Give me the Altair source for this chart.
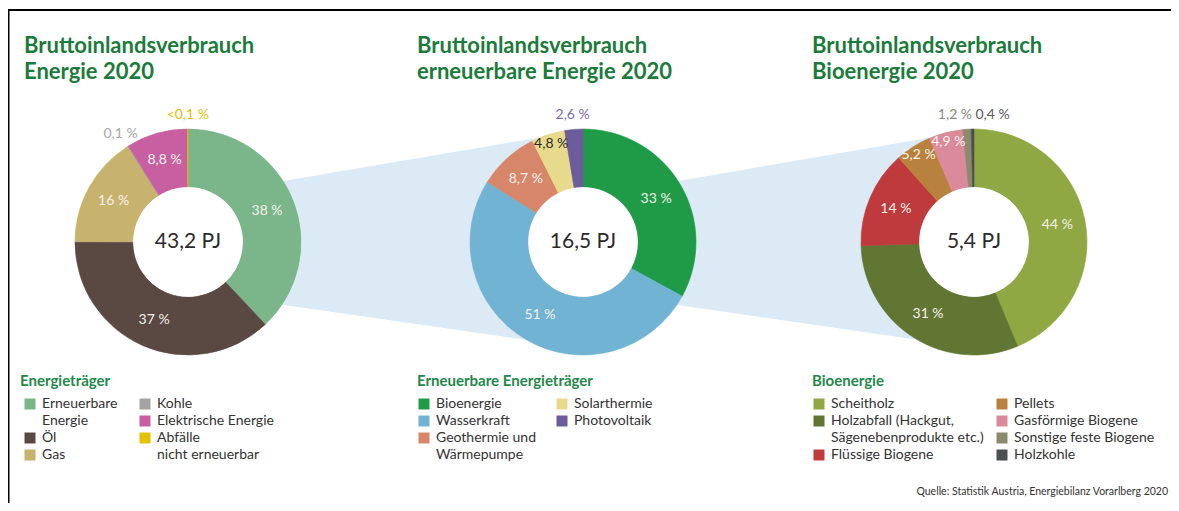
import math
import altair as alt
import pandas as pd

# ---------------- data ----------------
energie_cats = ["Erneuerbare Energie", "Öl", "Gas", "Kohle", "Elektrische Energie", "Abfälle nicht erneuerbar"]
energie_vals = [38, 37, 16, 0.1, 8.8, 0.05]
energie_labels = ["38 %", "37 %", "16 %", "0,1 %", "8,8 %", "<0,1 %"]
energie_total = "43,2 PJ"

ee_cats = ["Bioenergie", "Wasserkraft", "Geothermie und Wärmepumpe", "Solarthermie", "Photovoltaik"]
ee_vals = [33, 51, 8.7, 4.8, 2.6]
ee_labels = ["33 %", "51 %", "8,7 %", "4,8 %", "2,6 %"]
ee_total = "16,5 PJ"

bio_cats = ["Scheitholz", "Holzabfall (Hackgut, Sägenebenprodukte etc.)", "Flüssige Biogene", "Pellets",
            "Gasförmige Biogene", "Sonstige feste Biogene", "Holzkohle"]
bio_vals = [44, 31, 14, 5.2, 4.9, 1.2, 0.4]
bio_labels = ["44 %", "31 %", "14 %", "5,2 %", "4,9 %", "1,2 %", "0,4 %"]
bio_total = "5,4 PJ"

titles = [["Bruttoinlandsverbrauch", "Energie 2020"],
          ["Bruttoinlandsverbrauch", "erneuerbare Energie 2020"],
          ["Bruttoinlandsverbrauch", "Bioenergie 2020"]]
legend_titles = ["Energieträger", "Erneuerbare Energieträger", "Bioenergie"]
source_text = "Quelle: Statistik Austria, Energiebilanz Vorarlberg 2020"

# legend columns: (category, lines of text)
legend_cols = [
    [[("Erneuerbare Energie", ["Erneuerbare", "Energie"]), ("Öl", ["Öl"]), ("Gas", ["Gas"])],
     [("Kohle", ["Kohle"]), ("Elektrische Energie", ["Elektrische Energie"]),
      ("Abfälle nicht erneuerbar", ["Abfälle", "nicht erneuerbar"])]],
    [[("Bioenergie", ["Bioenergie"]), ("Wasserkraft", ["Wasserkraft"]),
      ("Geothermie und Wärmepumpe", ["Geothermie und", "Wärmepumpe"])],
     [("Solarthermie", ["Solarthermie"]), ("Photovoltaik", ["Photovoltaik"])]],
    [[("Scheitholz", ["Scheitholz"]),
      ("Holzabfall (Hackgut, Sägenebenprodukte etc.)", ["Holzabfall (Hackgut,", "Sägenebenprodukte etc.)"]),
      ("Flüssige Biogene", ["Flüssige Biogene"])],
     [("Pellets", ["Pellets"]), ("Gasförmige Biogene", ["Gasförmige Biogene"]),
      ("Sonstige feste Biogene", ["Sonstige feste Biogene"]), ("Holzkohle", ["Holzkohle"])]],
]

# ---------------- styles ----------------
energie_colors = ["#7bb58a", "#5a4943", "#c8b36e", "#a3a3a3", "#c75fa0", "#e3c300"]
ee_colors = ["#1f9b47", "#71b3d3", "#d8866a", "#e8da8c", "#6d5c9b"]
bio_colors = ["#8fa843", "#617632", "#bf3a3c", "#b8813e", "#db8a9b", "#8b8a6c", "#4b4f50"]
outer_label_colors = {"Kohle": "#a8a8a8", "Abfälle nicht erneuerbar": "#e0c000", "Photovoltaik": "#7b6cab",
                      "Sonstige feste Biogene": "#8a8a80", "Holzkohle": "#5a5a5a"}
dark_label = {"Solarthermie": "#2b2b2b"}
label_align = {"Sonstige feste Biogene": ("right", 6), "Holzkohle": ("left", 3)}

FONT = "Lato"
GREEN = "#1b7b3b"
TEXT = "#333333"

# ---------------- layout ----------------
CX = [188, 583, 974]
CY = 242
R_OUT, R_IN = 113, 55
TITLE_X = [24, 417, 812]
TITLE_Y = [53, 79]
LEG_TITLE_Y = 386
LEG_ROW0, LEG_STEP = 404, 17
LEG_TEXT_X = [[42, 157], [436, 574], [831, 1014]]

panels = [(energie_cats, energie_vals, energie_labels, energie_colors, energie_total),
          (ee_cats, ee_vals, ee_labels, ee_colors, ee_total),
          (bio_cats, bio_vals, bio_labels, bio_colors, bio_total)]

all_cats, all_colors = [], []
arc_rows, lab_rows, center_rows = [], [], []
for p, (cats, vals, labs, cols, tot) in enumerate(panels):
    all_cats += cats
    all_colors += cols
    total = sum(vals)
    cum = 0.0
    for i, (c, v, l) in enumerate(zip(cats, vals, labs)):
        t0, t1 = cum / total, (cum + v) / total
        cum += v
        arc_rows.append(dict(cat=c, t0=t0, t1=t1, cx=CX[p], cy=CY))
        mid = (t0 + t1) / 2 * 2 * math.pi
        if v >= 8:
            r = 85
        elif v >= 3:
            r = 103
        else:
            r = 127
        if r == 127:
            col = outer_label_colors.get(c, "#888888")
        else:
            col = dark_label.get(c, "#f4f1ea")
        al, dx = label_align.get(c, ("center", 0))
        lab_rows.append(dict(text=l, lx=CX[p] + r * math.sin(mid) + dx, ly=CY - r * math.cos(mid),
                             col=col, align=al))
    center_rows.append(dict(text=tot, x=CX[p], y=CY, t0=0.0, t1=1.0))

arcs = pd.DataFrame(arc_rows)
labels = pd.DataFrame(lab_rows)
centers = pd.DataFrame(center_rows)

title_rows = []
for p in range(3):
    for j, line in enumerate(titles[p]):
        title_rows.append(dict(text=line, x=TITLE_X[p], y=TITLE_Y[j]))
title_df = pd.DataFrame(title_rows)

leg_title_df = pd.DataFrame([dict(text=legend_titles[p], x=TITLE_X[p] - 4 if p == 0 else TITLE_X[p],
                                  y=LEG_TITLE_Y) for p in range(3)])
sq_rows, lt_rows = [], []
for p in range(3):
    for ci, col in enumerate(legend_cols[p]):
        row = 0
        tx = LEG_TEXT_X[p][ci]
        for cat, lines in col:
            sq_rows.append(dict(cat=cat, x=tx - 12, y=LEG_ROW0 + row * LEG_STEP))
            for ln in lines:
                lt_rows.append(dict(text=ln, x=tx, y=LEG_ROW0 + row * LEG_STEP))
                row += 1
sq_df = pd.DataFrame(sq_rows)
lt_df = pd.DataFrame(lt_rows)
src_df = pd.DataFrame([dict(text=source_text, x=1168, y=492)])

# ---------------- scales ----------------
W, H = 1163, 495
xs = alt.Scale(domain=[8, 8 + W], range=[0, W], nice=False, zero=False)
ys = alt.Scale(domain=[8, 8 + H], range=[0, H], nice=False, zero=False)
cs = alt.Scale(domain=all_cats, range=all_colors)
ts = alt.Scale(domain=[0, 1], range=[0, 2 * math.pi])


def X(f):
    return alt.X(f, type="quantitative", scale=xs, axis=None)


def Y(f):
    return alt.Y(f, type="quantitative", scale=ys, axis=None, stack=None)


conn_layers = []
for k in range(2):
    cdf = pd.DataFrame([dict(x=CX[k] + 60, top=CY - 55, bot=CY + 58),
                        dict(x=CX[k + 1], top=CY - 112, bot=CY + 106)])
    conn_layers.append(alt.Chart(cdf).mark_area(color="#dceaf6", opacity=1).encode(
        x=X("x"), y=Y("top"), y2=alt.Y2("bot")))

arc_layer = alt.Chart(arcs).mark_arc(radius=R_OUT, radius2=R_IN, strokeWidth=0.6).encode(
    x=X("cx"), y=Y("cy"),
    theta=alt.Theta("t0:Q", scale=ts), theta2="t1:Q",
    color=alt.Color("cat:N", scale=cs, legend=None),
    stroke=alt.Stroke("cat:N", scale=cs, legend=None))

hole_layer = alt.Chart(centers).mark_arc(radius=R_IN - 0.3, radius2=0, color="white").encode(
    x=X("x"), y=Y("y"), theta=alt.Theta("t0:Q", scale=ts), theta2="t1:Q")

label_layers = []
for al in ["center", "left", "right"]:
    sub = labels[labels["align"] == al]
    if len(sub):
        label_layers.append(alt.Chart(sub).mark_text(font=FONT, fontSize=14, align=al, baseline="middle").encode(
            x=X("lx"), y=Y("ly"), text="text:N", color=alt.Color("col:N", scale=None)))

center_layer = alt.Chart(centers).mark_text(font=FONT, fontSize=21, color="#2b2b2b", baseline="middle").encode(
    x=X("x"), y=Y("y"), text="text:N")

title_layer = alt.Chart(title_df).mark_text(font=FONT, fontSize=22, fontWeight="bold", color=GREEN,
                                            align="left", baseline="alphabetic").encode(
    x=X("x"), y=Y("y"), text="text:N")

leg_title_layer = alt.Chart(leg_title_df).mark_text(font=FONT, fontSize=15, fontWeight="bold", color="#23884a",
                                                    align="left", baseline="alphabetic").encode(
    x=X("x"), y=Y("y"), text="text:N")

sq_layer = alt.Chart(sq_df).mark_square(size=121, opacity=1).encode(
    x=X("x"), y=Y("y"), color=alt.Color("cat:N", scale=cs, legend=None))

lt_layer = alt.Chart(lt_df).mark_text(font=FONT, fontSize=14, color=TEXT, align="left", baseline="middle").encode(
    x=X("x"), y=Y("y"), text="text:N")

src_layer = alt.Chart(src_df).mark_text(font=FONT, fontSize=10.5, color=TEXT, align="right",
                                        baseline="middle").encode(x=X("x"), y=Y("y"), text="text:N")

frame_top = alt.Chart(src_df).mark_rule(color="black", strokeWidth=2).encode(
    x=alt.value(0), x2=alt.value(W), y=alt.value(2))
frame_left = alt.Chart(src_df).mark_rule(color="black", strokeWidth=2).encode(
    x=alt.value(0.5), y=alt.value(2), y2=alt.value(H))

chart = alt.layer(*conn_layers, arc_layer, hole_layer, *label_layers, center_layer, title_layer,
                  leg_title_layer, sq_layer, lt_layer, src_layer, frame_top, frame_left).properties(
    width=W, height=H, autosize=alt.AutoSizeParams(type="none"), padding=0, background="white"
).configure_view(strokeWidth=0)

chart.save("out.html", embed_options={"renderer": "svg", "actions": False})
